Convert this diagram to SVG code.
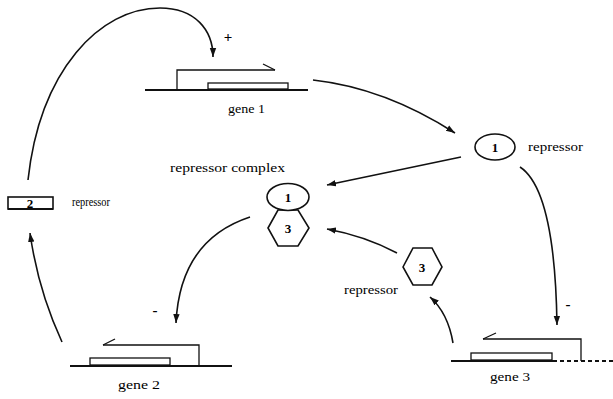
<svg xmlns="http://www.w3.org/2000/svg" width="613" height="399" viewBox="0 0 613 399">
<style>
.ln{fill:none;stroke:#111;stroke-width:1.6}
.base{fill:none;stroke:#111;stroke-width:2.2}
.thin{fill:none;stroke:#111;stroke-width:1.3}
.shape{fill:#fff;stroke:#111;stroke-width:1.6}
.t{font-family:"Liberation Serif","Times New Roman",serif;font-size:12.5px;fill:#000}
.n{font-family:"Liberation Serif","Times New Roman",serif;font-size:13px;font-weight:bold;fill:#000;text-anchor:middle}
.s{font-family:"Liberation Serif","Times New Roman",serif;font-size:15px;font-weight:bold;fill:#000;text-anchor:middle}
</style>
<defs>
<marker id="ah" markerUnits="userSpaceOnUse" markerWidth="10" markerHeight="8" refX="9" refY="4" orient="auto">
<path d="M0,0.8 L9,4 L0,7.2 Z" fill="#111"/>
</marker>
</defs>
<rect width="613" height="399" fill="#fff"/>

<g id="gene1">
<line class="base" x1="145" y1="90" x2="308" y2="90"/>
<rect class="thin" x="208" y="83" width="80" height="6"/>
<polyline class="thin" points="177,90 177,70 275,70"/>
<line class="thin" x1="263" y1="64" x2="275" y2="70"/>
<text class="t" x="228" y="113" textLength="37" lengthAdjust="spacingAndGlyphs">gene 1</text>
</g>

<g id="gene2">
<line class="base" x1="70" y1="366" x2="232" y2="366"/>
<rect class="thin" x="90" y="358" width="80" height="7"/>
<polyline class="thin" points="199,366 199,345 103,345"/>
<line class="thin" x1="103" y1="345" x2="115" y2="339"/>
<text class="t" x="118" y="389" textLength="42" lengthAdjust="spacingAndGlyphs">gene 2</text>
</g>

<g id="gene3">
<line class="base" x1="451" y1="361" x2="553" y2="361"/>
<line class="base" x1="553" y1="361" x2="613" y2="361" stroke-dasharray="4 3"/>
<rect class="thin" x="471" y="353" width="81" height="7"/>
<polyline class="thin" points="581,361 581,339 483,339"/>
<line class="thin" x1="483" y1="339" x2="496" y2="333"/>
<text class="t" x="490" y="381" textLength="40" lengthAdjust="spacingAndGlyphs">gene 3</text>
</g>

<g id="repressor1">
<ellipse class="shape" cx="495" cy="147" rx="20" ry="13"/>
<text class="n" x="495" y="152">1</text>
<text class="t" x="528" y="151" textLength="55" lengthAdjust="spacingAndGlyphs">repressor</text>
</g>

<g id="repressor2">
<rect class="shape" x="8" y="197" width="45" height="12"/>
<line class="base" x1="8" y1="209" x2="53" y2="209"/>
<text class="n" x="30" y="208">2</text>
<text class="t" x="72" y="206" textLength="38" lengthAdjust="spacingAndGlyphs">repressor</text>
</g>

<g id="repressor3">
<polygon class="shape" points="403,267 413,248 432,248 442,267 432,285 413,285"/>
<text class="n" x="422" y="272">3</text>
<text class="t" x="344" y="294" textLength="54" lengthAdjust="spacingAndGlyphs">repressor</text>
</g>

<g id="complex">
<text class="t" x="170" y="172" textLength="115" lengthAdjust="spacingAndGlyphs">repressor complex</text>
<polygon class="shape" points="268,228 278,210 298,210 309,228 298,246 278,246"/>
<ellipse class="shape" cx="288" cy="197" rx="21" ry="13.5"/>
<text class="n" x="288" y="202">1</text>
<text class="n" x="288" y="233">3</text>
</g>

<g id="connectors">
<path class="ln" d="M28,180 C40,70 100,8 160,8 C195,8 213,30 213,57" marker-end="url(#ah)"/>
<path class="ln" d="M313,80 Q385,88 455,133" marker-end="url(#ah)"/>
<path class="ln" d="M461,157 L327,185" marker-end="url(#ah)"/>
<path class="ln" d="M520,167 Q555,190 557,325" marker-end="url(#ah)"/>
<path class="ln" d="M397,253 Q365,236 327,229" marker-end="url(#ah)"/>
<path class="ln" d="M453,343 Q448,313 430,297" marker-end="url(#ah)"/>
<path class="ln" d="M250,217 Q180,240 176,323" marker-end="url(#ah)"/>
<path class="ln" d="M62,342 Q38,290 30,233" marker-end="url(#ah)"/>
<text class="s" x="228" y="42">+</text>
<text class="s" x="155" y="315">-</text>
<text class="s" x="568" y="309">-</text>
</g>
</svg>
